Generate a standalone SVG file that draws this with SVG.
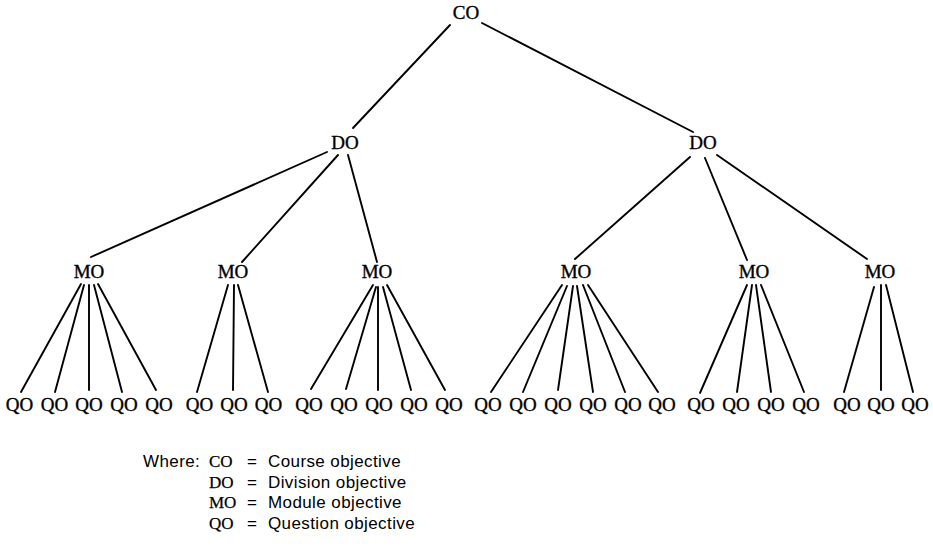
<svg xmlns="http://www.w3.org/2000/svg" width="933" height="546" viewBox="0 0 933 546">
<style>
.n{font-family:"Liberation Serif","Times New Roman",serif;font-size:19px;text-anchor:middle;fill:#000;stroke:#000;stroke-width:0.35}
.c line{stroke:#000;stroke-width:1.9;stroke-linecap:round}
.ls{font-family:"Liberation Serif","Times New Roman",serif;font-size:17px;fill:#000;stroke:#000;stroke-width:0.25}
.la{font-family:"Liberation Sans",Arial,sans-serif;font-size:17px;fill:#000;letter-spacing:0.4px}
</style>
<rect width="933" height="546" fill="#fff"/>
<g id="connectors" class="c">
<line x1="450" y1="25" x2="353" y2="128"/>
<line x1="482" y1="23" x2="693" y2="132"/>
<line x1="327" y1="152" x2="91" y2="257"/>
<line x1="338" y1="155" x2="242" y2="262"/>
<line x1="348" y1="155" x2="377" y2="262"/>
<line x1="690" y1="157" x2="575" y2="259"/>
<line x1="705" y1="158" x2="747" y2="260"/>
<line x1="717" y1="155" x2="867" y2="259"/>
<line x1="81" y1="284" x2="21" y2="392"/>
<line x1="84" y1="285" x2="55" y2="392"/>
<line x1="89" y1="285" x2="89" y2="390"/>
<line x1="94" y1="285" x2="122" y2="392"/>
<line x1="98" y1="284" x2="156" y2="390"/>
<line x1="228" y1="285" x2="197" y2="392"/>
<line x1="234" y1="285" x2="233" y2="390"/>
<line x1="238" y1="285" x2="268" y2="392"/>
<line x1="373" y1="285" x2="311" y2="389"/>
<line x1="376" y1="287" x2="346" y2="389"/>
<line x1="378" y1="287" x2="378" y2="390"/>
<line x1="383" y1="287" x2="411" y2="390"/>
<line x1="387" y1="285" x2="445" y2="390"/>
<line x1="562" y1="285" x2="491" y2="392"/>
<line x1="567" y1="286" x2="523" y2="392"/>
<line x1="573" y1="286" x2="558" y2="390"/>
<line x1="577" y1="286" x2="593" y2="392"/>
<line x1="583" y1="285" x2="625" y2="392"/>
<line x1="588" y1="285" x2="658" y2="392"/>
<line x1="747" y1="285" x2="700" y2="393"/>
<line x1="752" y1="285" x2="737" y2="392"/>
<line x1="756" y1="285" x2="771" y2="392"/>
<line x1="761" y1="285" x2="804" y2="392"/>
<line x1="874" y1="287" x2="844" y2="392"/>
<line x1="881" y1="285" x2="881" y2="390"/>
<line x1="886" y1="285" x2="913" y2="392"/>
</g>
<g id="co"><text class="n" x="466" y="19">CO</text></g>
<g id="do1"><text class="n" x="345" y="149">DO</text></g>
<g id="do2"><text class="n" x="703" y="149">DO</text></g>
<g id="mo1"><text class="n" x="89" y="278">MO</text></g>
<g id="mo2"><text class="n" x="233" y="278">MO</text></g>
<g id="mo3"><text class="n" x="377" y="278">MO</text></g>
<g id="mo4"><text class="n" x="576" y="278">MO</text></g>
<g id="mo5"><text class="n" x="754" y="278">MO</text></g>
<g id="mo6"><text class="n" x="880" y="278">MO</text></g>
<g id="qo1-1"><text class="n" x="19.5" y="411">QO</text></g>
<g id="qo1-2"><text class="n" x="54.5" y="411">QO</text></g>
<g id="qo1-3"><text class="n" x="89" y="411">QO</text></g>
<g id="qo1-4"><text class="n" x="124" y="411">QO</text></g>
<g id="qo1-5"><text class="n" x="159" y="411">QO</text></g>
<g id="qo2-1"><text class="n" x="199.5" y="411">QO</text></g>
<g id="qo2-2"><text class="n" x="234" y="411">QO</text></g>
<g id="qo2-3"><text class="n" x="268.5" y="411">QO</text></g>
<g id="qo3-1"><text class="n" x="309" y="411">QO</text></g>
<g id="qo3-2"><text class="n" x="344" y="411">QO</text></g>
<g id="qo3-3"><text class="n" x="379" y="411">QO</text></g>
<g id="qo3-4"><text class="n" x="414" y="411">QO</text></g>
<g id="qo3-5"><text class="n" x="449" y="411">QO</text></g>
<g id="qo4-1"><text class="n" x="488" y="411">QO</text></g>
<g id="qo4-2"><text class="n" x="523" y="411">QO</text></g>
<g id="qo4-3"><text class="n" x="558" y="411">QO</text></g>
<g id="qo4-4"><text class="n" x="593" y="411">QO</text></g>
<g id="qo4-5"><text class="n" x="628" y="411">QO</text></g>
<g id="qo4-6"><text class="n" x="662" y="411">QO</text></g>
<g id="qo5-1"><text class="n" x="701" y="411">QO</text></g>
<g id="qo5-2"><text class="n" x="736" y="411">QO</text></g>
<g id="qo5-3"><text class="n" x="771" y="411">QO</text></g>
<g id="qo5-4"><text class="n" x="806" y="411">QO</text></g>
<g id="qo6-1"><text class="n" x="847" y="411">QO</text></g>
<g id="qo6-2"><text class="n" x="881" y="411">QO</text></g>
<g id="qo6-3"><text class="n" x="915" y="411">QO</text></g>
<g id="legend">
<text class="la" x="143" y="467">Where:</text>
<text class="ls" x="209" y="467">CO</text>
<text class="ls" x="209" y="488">DO</text>
<text class="ls" x="209" y="508">MO</text>
<text class="ls" x="209" y="529">QO</text>
<text class="la" x="247" y="467">=</text>
<text class="la" x="247" y="488">=</text>
<text class="la" x="247" y="508">=</text>
<text class="la" x="247" y="529">=</text>
<text class="la" x="268" y="467">Course objective</text>
<text class="la" x="268" y="488">Division objective</text>
<text class="la" x="268" y="508">Module objective</text>
<text class="la" x="268" y="529">Question objective</text>
</g>
</svg>
